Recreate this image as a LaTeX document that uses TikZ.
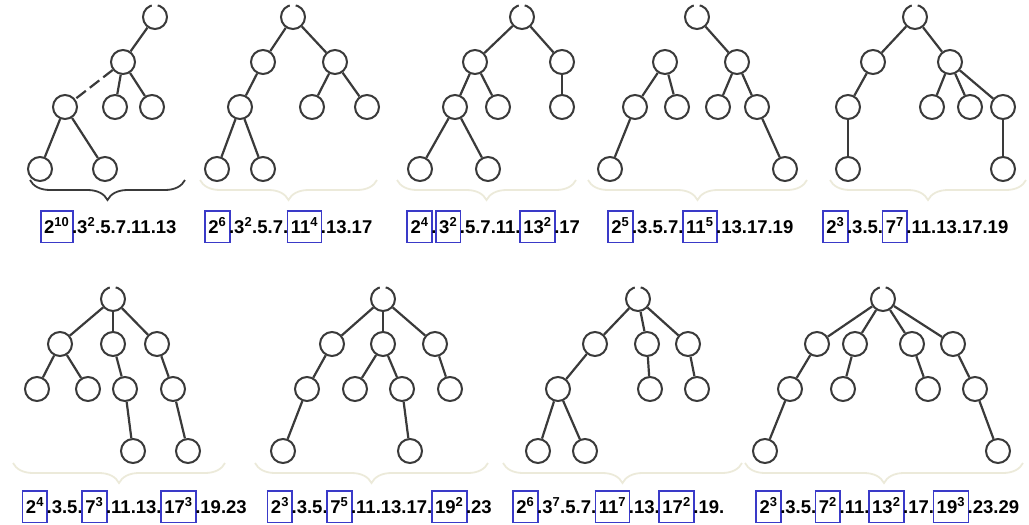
\documentclass[tikz,border=0pt]{standalone}
\usepackage{fontspec}
\setmainfont{Liberation Sans}
\usetikzlibrary{decorations.pathreplacing}

\definecolor{treegray}{RGB}{58,58,58}
\definecolor{boxblue}{RGB}{58,58,200}
\definecolor{bracetan}{RGB}{236,234,218}

\newcommand{\hilite}[1]{\kern-1.5pt{\color{boxblue}\setlength{\fboxsep}{2.5pt}%
    \setlength{\fboxrule}{1.7pt}\fbox{\color{black}\rule[-6pt]{0pt}{25pt}#1}}\kern-1.5pt}
\newcommand{\pw}[1]{\textsuperscript{#1}}

\begin{document}
\begin{tikzpicture}[x=1pt, y=-1pt,
    vertex/.style={circle, solid, draw=treegray, line width=2pt,
        minimum size=24pt, inner sep=0pt},
    rootvertex/.style={vertex, dash pattern=on 16pt off 6pt on 60pt},
    edge from parent/.style={draw=treegray, solid, line width=2.2pt},
    broken/.style={dash pattern=on 12pt off 5pt},
    factors/.style={anchor=base, inner sep=0pt,
        font=\bfseries\fontsize{18.5}{21}\selectfont},
    darkbrace/.style={decorate, draw=treegray, line width=1.8pt,
        decoration={brace, mirror, amplitude=20pt}},
    palebrace/.style={darkbrace, draw=bracetan},
    sibling distance=0pt, level distance=45pt,
    level 3/.style={level distance=62pt}]

\useasboundingbox (0,0) rectangle (1029,525);

\node (Root01) [rootvertex] at (155,17) {}
    child[xshift=-32pt]{
        node (Vert01a) [vertex] {}
        child[xshift=-58pt]{
            node (Vert01b) [vertex] {}
            child[xshift=-25pt]{node (Vert01e) [vertex] {}}
            child[xshift=40pt]{node (Vert01f) [vertex] {}}
            edge from parent[broken]
        }
        child[xshift=-8pt]{node (Vert01c) [vertex] {}}
        child[xshift=29pt]{node (Vert01d) [vertex] {}}
    };

\node (Root02) [rootvertex] at (293,17) {}
    child[xshift=-30pt]{
        node (Vert02a) [vertex] {}
        child[xshift=-23pt]{
            node (Vert02c) [vertex] {}
            child[xshift=-23pt]{node (Vert02f) [vertex] {}}
            child[xshift=23pt]{node (Vert02g) [vertex] {}}
        }
    }
    child[xshift=42pt]{
        node (Vert02b) [vertex] {}
        child[xshift=-23pt]{node (Vert02d) [vertex] {}}
        child[xshift=32pt]{node (Vert02e) [vertex] {}}
    };

\node (Root03) [rootvertex] at (522,17) {}
    child[xshift=-47pt]{
        node (Vert03a) [vertex] {}
        child[xshift=-20pt]{
            node (Vert03c) [vertex] {}
            child[xshift=-35pt]{node (Vert03f) [vertex] {}}
            child[xshift=33pt]{node (Vert03g) [vertex] {}}
        }
        child[xshift=23pt]{node (Vert03d) [vertex] {}}
    }
    child[xshift=40pt]{
        node (Vert03b) [vertex] {}
        child{node (Vert03e) [vertex] {}}
    };

\node (Root04) [rootvertex] at (697,17) {}
    child[xshift=-32pt]{
        node (Vert04a) [vertex] {}
        child[xshift=-30pt]{
            node (Vert04c) [vertex] {}
            child[xshift=-25pt]{node (Vert04g) [vertex] {}}
        }
        child[xshift=12pt]{node (Vert04d) [vertex] {}}
        edge from parent[draw=none]
    }
    child[xshift=40pt]{
        node (Vert04b) [vertex] {}
        child[xshift=-19pt]{node (Vert04e) [vertex] {}}
        child[xshift=20pt]{
            node (Vert04f) [vertex] {}
            child[xshift=28pt]{node (Vert04h) [vertex] {}}
        }
    };

\node (Root05) [rootvertex] at (915,17) {}
    child[xshift=-42pt]{
        node (Vert05a) [vertex] {}
        child[xshift=-25pt]{
            node (Vert05c) [vertex] {}
            child{node (Vert05g) [vertex] {}}
        }
    }
    child[xshift=35pt]{
        node (Vert05b) [vertex] {}
        child[xshift=-18pt]{node (Vert05d) [vertex] {}}
        child[xshift=20pt]{node (Vert05e) [vertex] {}}
        child[xshift=53pt]{
            node (Vert05f) [vertex] {}
            child{node (Vert05h) [vertex] {}}
        }
    };

\node (Root06) [rootvertex] at (113,299) {}
    child[xshift=-53pt]{
        node (Vert06a) [vertex] {}
        child[xshift=-23pt]{node (Vert06d) [vertex] {}}
        child[xshift=28pt]{node (Vert06e) [vertex] {}}
    }
    child{
        node (Vert06b) [vertex] {}
        child[xshift=12pt]{
            node (Vert06f) [vertex] {}
            child[xshift=8pt]{node (Vert06h) [vertex] {}}
        }
    }
    child[xshift=44pt]{
        node (Vert06c) [vertex] {}
        child[xshift=16pt]{
            node (Vert06g) [vertex] {}
            child[xshift=15pt]{node (Vert06i) [vertex] {}}
        }
    };

\node (Root07) [rootvertex] at (383,299) {}
    child[xshift=-51pt]{
        node (Vert07a) [vertex] {}
        child[xshift=-25pt]{
            node (Vert07d) [vertex] {}
            child[xshift=-24pt]{node (Vert07h) [vertex] {}}
        }
    }
    child{
        node (Vert07b) [vertex] {}
        child[xshift=-28pt]{node (Vert07e) [vertex] {}}
        child[xshift=19pt]{
            node (Vert07f) [vertex] {}
            child[xshift=8pt]{node (Vert07i) [vertex] {}}
        }
    }
    child[xshift=52pt]{
        node (Vert07c) [vertex] {}
        child[xshift=15pt]{node (Vert07g) [vertex] {}}
    };

\node (Root08) [rootvertex] at (638,299) {}
    child[xshift=-43pt]{
        node (Vert08a) [vertex] {}
        child[xshift=-37pt]{
            node (Vert08d) [vertex] {}
            child[xshift=-20pt]{node (Vert08g) [vertex] {}}
            child[xshift=27pt]{node (Vert08h) [vertex] {}}
        }
    }
    child[xshift=9pt]{
        node (Vert08b) [vertex] {}
        child[xshift=3pt]{node (Vert08e) [vertex] {}}
    }
    child[xshift=50pt]{
        node (Vert08c) [vertex] {}
        child[xshift=9pt]{node (Vert08f) [vertex] {}}
    };

\node (Root09) [rootvertex] at (883,299) {}
    child[xshift=-66pt]{
        node (Vert09a) [vertex] {}
        child[xshift=-27pt]{
            node (Vert09e) [vertex] {}
            child[xshift=-25pt]{node (Vert09i) [vertex] {}}
        }
    }
    child[xshift=-28pt]{
        node (Vert09b) [vertex] {}
        child[xshift=-12pt]{node (Vert09f) [vertex] {}}
    }
    child[xshift=29pt]{
        node (Vert09c) [vertex] {}
        child[xshift=16pt]{node (Vert09g) [vertex] {}}
    }
    child[xshift=70pt]{
        node (Vert09d) [vertex] {}
        child[xshift=22pt]{
            node (Vert09h) [vertex] {}
            child[xshift=23pt]{node (Vert09j) [vertex] {}}
        }
    };

% braces under the trees
\draw[darkbrace] (30,180) -- (185,180);
\draw[palebrace] (200,180) -- (377,180);
\draw[palebrace] (397,180) -- (576,180);
\draw[palebrace] (588,180) -- (807,180);
\draw[palebrace] (830,180) -- (1026,180);
\draw[palebrace] (13,463) -- (225,463);
\draw[palebrace] (255,463) -- (488,463);
\draw[palebrace] (503,463) -- (742,463);
\draw[palebrace] (745,463) -- (1023,463);

% factorisations
\node (Code01) [factors] at (109,233)
    {\hilite{2\pw{10}}.3\pw{2}.5.7.11.13};
\node (Code02) [factors] at (289,233)
    {\hilite{2\pw{6}}.3\pw{2}.5.7.\hilite{11\pw{4}}.13.17};
\node (Code03) [factors] at (494,233)
    {\hilite{2\pw{4}}.\hilite{3\pw{2}}.5.7.11.\hilite{13\pw{2}}.17};
\node (Code04) [factors] at (701,233)
    {\hilite{2\pw{5}}.3.5.7.\hilite{11\pw{5}}.13.17.19};
\node (Code05) [factors] at (916,233)
    {\hilite{2\pw{3}}.3.5.\hilite{7\pw{7}}.11.13.17.19};
\node (Code06) [factors] at (135,513)
    {\hilite{2\pw{4}}.3.5.\hilite{7\pw{3}}.11.13.\hilite{17\pw{3}}.19.23};
\node (Code07) [factors] at (380,513)
    {\hilite{2\pw{3}}.3.5.\hilite{7\pw{5}}.11.13.17.\hilite{19\pw{2}}.23};
\node (Code08) [factors] at (619,513)
    {\hilite{2\pw{6}}.3\pw{7}.5.7.\hilite{11\pw{7}}.13.\hilite{17\pw{2}}.19.};
\node (Code09) [factors] at (888,513)
    {\hilite{2\pw{3}}.3.5.\hilite{7\pw{2}}.11.\hilite{13\pw{2}}.17.\hilite{19\pw{3}}.23.29};

\end{tikzpicture}
\end{document}
